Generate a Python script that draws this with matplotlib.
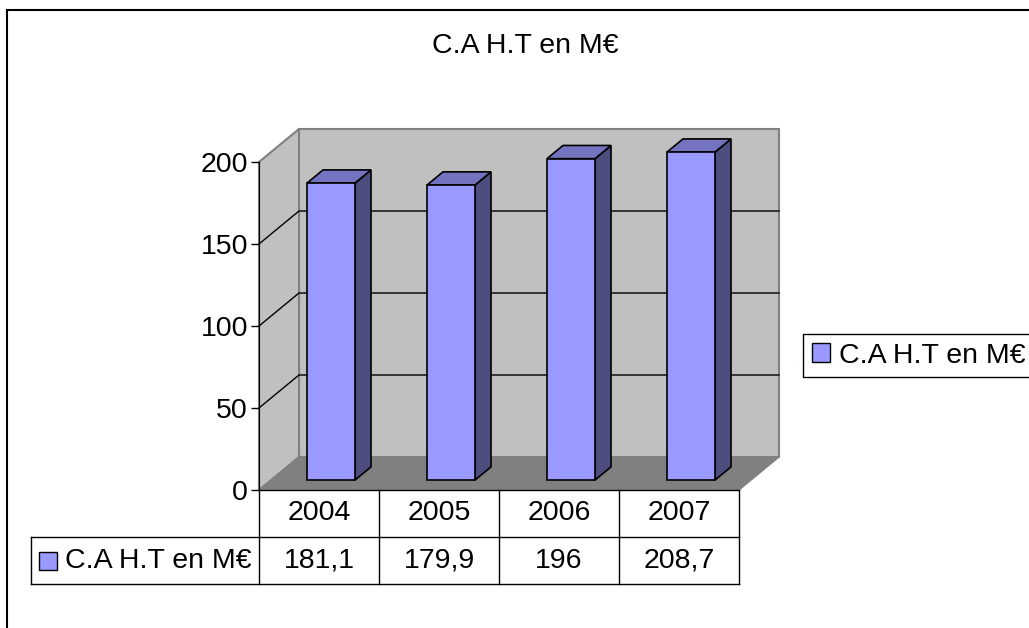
import numpy as np
import matplotlib
matplotlib.use("Agg")
import matplotlib.pyplot as plt
from matplotlib.patches import Polygon, Rectangle, Patch

plt.rcParams['font.family'] = ['Liberation Sans', 'DejaVu Sans']

# --- data ---
title = "C.A H.T en M€"
series_name = "C.A H.T en M€"
years = ["2004", "2005", "2006", "2007"]
values = [181.1, 179.9, 196, 208.7]
value_labels = ["181,1", "179,9", "196", "208,7"]
yticks = [0, 50, 100, 150, 200]

FS = 20.5
W, H = 1029, 628
YMAX = 200
DX, DY = 40 / 120, 33 / 1.64       # depth offset in data units
ROW_H = 47 / 1.64                  # table row height in data units
LABEL_X = (31 - 259) / 120         # left edge of row-label cell

fig = plt.figure(figsize=(W / 100, H / 100), dpi=100)
ax = fig.add_axes([259 / W, (H - 490) / H, 480 / W, 328 / H])
ax.set_xlim(0, len(years))
ax.set_ylim(0, YMAX)
ax.patch.set_visible(False)


def proj(x, v, d):
    return (x + d * DX, v + d * DY)


def poly(pts, fc, ec, lw=1.0, z=1):
    ax.add_patch(Polygon([proj(*p) for p in pts], closed=True, facecolor=fc,
                         edgecolor=ec, linewidth=lw, clip_on=False, zorder=z))


n = len(years)
# walls and floor
poly([(0, 0, 1), (n, 0, 1), (n, YMAX, 1), (0, YMAX, 1)], "#C0C0C0", "#808080", 1.5, 1)
poly([(0, 0, 0), (0, 0, 1), (0, YMAX, 1), (0, YMAX, 0)], "#C0C0C0", "#808080", 1.5, 1)
poly([(0, 0, 0), (n, 0, 0), (n, 0, 1), (0, 0, 1)], "#808080", "#808080", 1.0, 2)

# gridlines
for v in yticks[1:-1]:
    pts = [proj(0, v, 0), proj(0, v, 1), proj(n, v, 1)]
    ax.plot([p[0] for p in pts], [p[1] for p in pts], color="black", lw=1.0,
            clip_on=False, zorder=2)

# bars (values above the axis max are cut at the top)
for i, v in enumerate(values):
    h = min(v, YMAX)
    xl, xr = i + 0.3, i + 0.7
    d0, d1 = 0.3, 0.7
    poly([(xr, 0, d0), (xr, 0, d1), (xr, h, d1), (xr, h, d0)], "#4D4D80", "black", 1.2, 3)
    poly([(xl, h, d0), (xr, h, d0), (xr, h, d1), (xl, h, d1)], "#7373BF", "black", 1.2, 3)
    poly([(xl, 0, d0), (xr, 0, d0), (xr, h, d0), (xl, h, d0)], "#9999FF", "black", 1.2, 4)

# y axis
ax.set_xticks([])
ax.set_yticks(yticks)
ax.tick_params(axis="y", labelsize=FS, length=6, width=1, direction="out", pad=2)
for s in ["top", "right", "bottom"]:
    ax.spines[s].set_visible(False)
ax.spines["left"].set_color("black")
ax.spines["left"].set_zorder(5)

# data table
tk = dict(color="black", lw=1.0, clip_on=False, zorder=5)
ax.plot([0, n], [0, 0], **tk)
ax.plot([LABEL_X, n], [-ROW_H, -ROW_H], **tk)
ax.plot([LABEL_X, n], [-2 * ROW_H, -2 * ROW_H], **tk)
ax.plot([LABEL_X, LABEL_X], [-ROW_H, -2 * ROW_H], **tk)
for k in range(n + 1):
    ax.plot([k, k], [0, -2 * ROW_H], **tk)
for i in range(n):
    ax.text(i + 0.5, -ROW_H / 2, years[i], ha="center", va="center", fontsize=FS)
    ax.text(i + 0.5, -1.5 * ROW_H, value_labels[i], ha="center", va="center", fontsize=FS)

# legend key inside the table
key_w = 18 / 120
key_h = 18 / 1.64
ax.add_patch(Rectangle((LABEL_X + 8 / 120, -1.5 * ROW_H - key_h / 2), key_w, key_h,
                       facecolor="#9999FF", edgecolor="black", lw=1.0, clip_on=False))
ax.text(LABEL_X + 34 / 120, -1.5 * ROW_H, series_name, ha="left", va="center", fontsize=FS)

# title
fig.text(525 / W, 1 - 46 / H, title, ha="center", va="center", fontsize=FS)

# legend
handle = Patch(facecolor="#9999FF", edgecolor="black", linewidth=1.0)
leg = fig.legend([handle], [series_name], loc="upper left",
                 bbox_to_anchor=(803 / W, 1 - 334 / H), fontsize=FS,
                 frameon=True, fancybox=False, framealpha=1, borderpad=0.3,
                 handlelength=0.65, handleheight=0.65, handletextpad=0.33,
                 borderaxespad=0)
leg.get_frame().set_edgecolor("black")
leg.get_frame().set_linewidth(1.0)

# chart border (runs past the right and bottom edges)
fig.patches.append(Rectangle((7 / W, -0.05), 1.1, 1 - 10 / H + 0.05,
                             transform=fig.transFigure, fill=False,
                             edgecolor="black", lw=1.5))

fig.savefig("out.png", dpi=100)
